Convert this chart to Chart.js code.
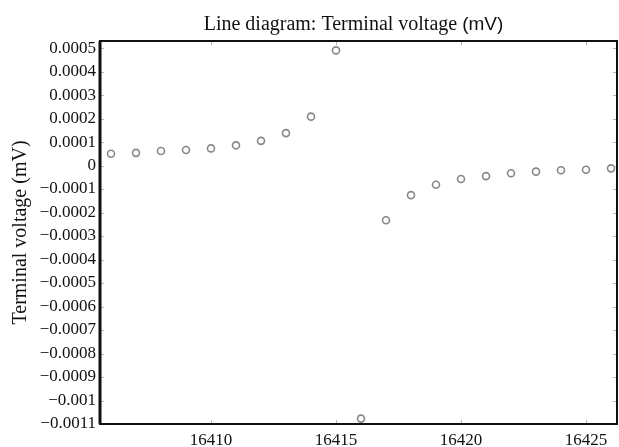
<!DOCTYPE html>
<html>
<head>
<meta charset="utf-8">
<script src="https://cdn.jsdelivr.net/npm/chart.js@4.4.1/dist/chart.umd.min.js"></script>
<style>
  html, body { margin: 0; padding: 0; background: #fff; }
  #wrap { width: 619px; height: 447px; }
</style>
</head>
<body>
<div id="wrap"><canvas id="chartVolt"></canvas></div>
<script>
const time = [16406, 16407, 16408, 16409, 16410, 16411, 16412, 16413, 16414, 16415,
              16416, 16417, 16418, 16419, 16420, 16421, 16422, 16423, 16424, 16425, 16426];
const voltage = [0.000050, 0.000054, 0.000062, 0.000066, 0.000073, 0.000086, 0.000105, 0.000138, 0.000208, 0.000490,
                 -0.001077, -0.000233, -0.000126, -0.000082, -0.000057, -0.000045, -0.000033, -0.000026, -0.000020, -0.000018, -0.000012];
const xTicks = [16410, 16415, 16420, 16425];
const yTicks = [0.0005, 0.0004, 0.0003, 0.0002, 0.0001, 0, -0.0001, -0.0002, -0.0003, -0.0004,
                -0.0005, -0.0006, -0.0007, -0.0008, -0.0009, -0.001, -0.0011];

const serif = '"Liberation Serif", "DejaVu Serif", serif';
const sans = '"Liberation Sans", Arial, sans-serif';

// frame, inner tick marks and the two-font title
const framePlugin = {
    id: 'frame',
    afterDraw(chart) {
        const { ctx, chartArea: a, scales } = chart;
        ctx.save();
        ctx.strokeStyle = '#b5b5b5';
        ctx.lineWidth = 1;
        yTicks.forEach(v => {
            const y = Math.round(scales.y.getPixelForValue(v)) + 0.5;
            ctx.beginPath();
            ctx.moveTo(a.left, y); ctx.lineTo(a.left + 4, y);
            ctx.moveTo(a.right, y); ctx.lineTo(a.right - 4, y);
            ctx.stroke();
        });
        xTicks.forEach(v => {
            const x = Math.round(scales.x.getPixelForValue(v)) + 0.5;
            ctx.beginPath();
            ctx.moveTo(x, a.top); ctx.lineTo(x, a.top + 4);
            ctx.moveTo(x, a.bottom); ctx.lineTo(x, a.bottom - 4);
            ctx.stroke();
        });
        ctx.strokeStyle = '#111';
        ctx.lineWidth = 2;
        ctx.strokeRect(a.left, a.top, a.right - a.left, a.bottom - a.top);
        ctx.lineWidth = 3;
        ctx.beginPath();
        ctx.moveTo(a.left, a.top); ctx.lineTo(a.left, a.bottom);
        ctx.stroke();

        const part1 = 'Line diagram: Terminal voltage ';
        const part2 = '(mV)';
        ctx.fillStyle = '#111';
        ctx.textBaseline = 'alphabetic';
        ctx.font = '20px ' + serif;
        const w1 = ctx.measureText(part1).width;
        ctx.font = '19px ' + sans;
        const w2 = ctx.measureText(part2).width;
        const x0 = (a.left + a.right) / 2 - 5 - (w1 + w2) / 2;
        ctx.textAlign = 'left';
        ctx.font = '20px ' + serif;
        ctx.fillText(part1, x0, 30);
        ctx.font = '19px ' + sans;
        ctx.fillText(part2, x0 + w1, 30);
        ctx.restore();
    }
};

const ctx = document.getElementById('chartVolt');

new Chart(ctx, {
    type: 'scatter',
    data: {
        datasets: [{
            label: 'Terminal voltage (mV)',
            data: time.map((t, i) => ({ x: t, y: voltage[i] })),
            showLine: false,
            pointStyle: 'circle',
            pointRadius: 3.5,
            pointBorderWidth: 1.6,
            pointBorderColor: '#878787',
            pointBackgroundColor: 'rgba(255,255,255,0)'
        }]
    },
    plugins: [framePlugin],
    options: {
        responsive: true,
        maintainAspectRatio: false,
        animation: false,
        layout: { autoPadding: false, padding: { top: 41, right: 2, left: 0, bottom: 0 } },
        plugins: {
            legend: { display: false },
            tooltip: { enabled: false },
            title: { display: false }
        },
        scales: {
            x: {
                type: 'linear',
                min: 16405.56,
                max: 16426.24,
                afterBuildTicks: s => { s.ticks = xTicks.map(v => ({ value: v })); },
                afterFit: s => { s.height = 23; s.paddingLeft = 0; s.paddingRight = 0; },
                border: { display: false },
                grid: { display: false, drawTicks: false },
                ticks: {
                    padding: 6,
                    color: '#111',
                    font: { family: serif, size: 17 },
                    callback: v => String(v)
                }
            },
            y: {
                min: -0.0011,
                max: 0.00053,
                afterBuildTicks: s => { s.ticks = yTicks.map(v => ({ value: v })); },
                afterFit: s => { s.width = 100; s.paddingTop = 0; s.paddingBottom = 0; },
                border: { display: false },
                grid: { display: false, drawTicks: false },
                title: {
                    display: true,
                    text: 'Terminal voltage (mV)',
                    color: '#111',
                    font: { family: serif, size: 20 },
                    padding: { top: 9, bottom: 0 }
                },
                ticks: {
                    padding: 4,
                    color: '#111',
                    font: { family: serif, size: 17 },
                    callback: v => String(Math.round(v * 1e4) / 1e4).replace('-', '\u2212')
                }
            }
        }
    }
});
</script>
</body>
</html>
